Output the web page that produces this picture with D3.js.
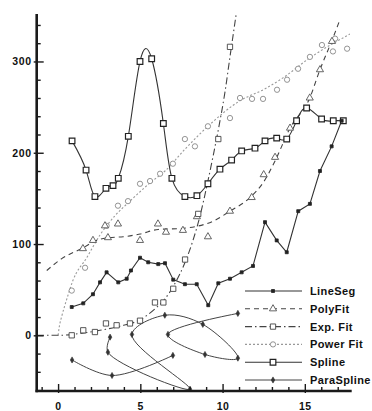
<!DOCTYPE html>
<html>
<head>
<meta charset="utf-8">
<script src="https://cdn.jsdelivr.net/npm/d3@7"></script>
<style>
  html, body { margin: 0; padding: 0; background: #fff; }
  svg { display: block; }
  text { font-family: "Liberation Sans", Arial, Helvetica, sans-serif; font-weight: bold; fill: #111; }
</style>
</head>
<body>
<svg id="chart" width="372" height="411"></svg>
<script>
// ---- data ----
const lineSegX = [0.83, 1.53, 2.12, 2.55, 2.95, 3.66, 4.17, 4.43, 4.98, 5.48, 6.09, 6.5, 7.0, 7.71, 8.43, 9.13, 9.74, 10.45, 11.16, 11.85, 12.58, 13.29, 13.9, 14.6, 15.31, 15.92, 16.63, 17.24];
const lineSegY = [31, 35, 45, 58, 69, 58, 62, 71, 85, 80, 78, 79, 61, 56, 56, 33, 57, 62, 69, 76, 124, 104, 91, 136, 144, 180, 207, 235];

const polyFitX = [1.51, 2.12, 2.85, 3.03, 3.64, 4.98, 6.07, 6.56, 7.59, 8.44, 9.11, 10.45, 11.77, 12.5, 13.19, 14.1, 15.3, 15.92, 16.65];
const polyFitY = [95, 104, 120, 107, 122, 104, 122, 113, 115, 130, 108, 136, 151, 176, 195, 227, 260, 291, 322];
const polyCurveX = [-0.69, 0.22, 1.43, 2.35, 3.05, 3.96, 4.98, 6.09, 7.41, 8.32, 9.42, 10.45, 11.67, 12.46, 13.19, 14.1, 15.3, 15.92, 16.65, 17.14];
const polyCurveY = [71, 84, 95, 104, 107, 108, 111, 116, 117, 119, 125, 136, 151, 167, 191, 227, 260, 291, 323, 346];

const expFitX = [0.83, 1.53, 2.24, 2.91, 3.56, 4.37, 4.98, 5.89, 6.4, 7.0, 7.72, 8.52, 9.74, 10.45];
const expFitY = [0, 5.5, 3.6, 13, 11, 13, 16, 36, 36, 51, 83, 133, 215, 316];
const expCurveX = [-1.28, 0, 1.34, 2.55, 3.76, 4.98, 5.89, 6.5, 7.11, 7.72, 8.2, 8.63, 9.05, 9.42, 9.78, 10.15, 10.45, 10.82];
const expCurveY = [0, 0, 2, 5.5, 10, 17, 29, 40, 57, 80, 104, 131, 164, 196, 229, 267, 305, 351];

const powerFitX = [0.83, 1.64, 2.95, 3.64, 4.25, 4.98, 5.59, 6.2, 6.98, 7.71, 8.32, 9.11, 10.45, 11.06, 11.79, 12.46, 13.31, 13.92, 14.59, 15.31, 16.04, 16.71, 16.84, 17.57];
const powerFitY = [49, 74, 120, 142, 147, 166, 169, 177, 188, 215, 207, 229, 238, 260, 259, 259, 269, 280, 292, 305, 318, 311, 325, 314];
const powerCurveX = [0, 0.08, 0.24, 0.5, 0.9, 1.74, 2.55, 3.46, 4.37, 5.59, 6.5, 7.72, 9.11, 11.06, 12.58, 13.67, 15.31, 17.74];
const powerCurveY = [0, 10, 22, 38, 60, 85, 110, 131, 147, 167, 180, 204, 229, 257, 270, 282, 304, 330];

const splineX = [0.85, 1.70, 2.24, 2.91, 3.34, 3.66, 4.27, 4.98, 5.69, 6.40, 6.92, 7.71, 8.44, 9.11, 9.84, 10.55, 11.16, 11.97, 12.58, 13.29, 13.90, 14.50, 15.11, 16.02, 16.73, 17.34];
const splineY = [213, 181, 152, 161, 164, 172, 218, 300, 303, 232, 172, 152, 153, 166, 182, 192, 202, 205, 213, 216, 215, 235, 249, 237, 235, 235];

// parametric path; null splits it into two pieces
const paraX = [3.16, 3.03, 8.02, 4.49, 6.49, 8.8, 10.93, 8.93, 6.68, 10.93, null, 0.85, 3.28, 6.98];
const paraY = [-2, -18.5, -59, 1, 22, 12, -25, -21, 1, 24, null, -27, -44, -22];

const xMajorTicks = [0, 5, 10, 15];
const yMajorTicks = [0, 100, 200, 300];
const legendNames = ["LineSeg", "PolyFit", "Exp. Fit", "Power Fit", "Spline", "ParaSpline"];

// ---- layout ----
const svg = d3.select("#chart");
const x = d3.scaleLinear().domain([-1.3, 17.85]).range([36.7, 351.7]);
const y = d3.scaleLinear().domain([-61, 352]).range([391, 14]);

const zip = (xs, ys) => xs.map((v, i) => ({ x: v, y: ys[i] }));

svg.append("defs").append("clipPath").attr("id", "plot")
  .append("rect").attr("x", x.range()[0]).attr("y", y.range()[1])
  .attr("width", x.range()[1] - x.range()[0]).attr("height", y.range()[0] - y.range()[1]);

const plot = svg.append("g").attr("clip-path", "url(#plot)");

const symbols = {
  lineSeg:   { type: d3.symbolSquare,   size: 9,  fill: "#222", stroke: "#222", sw: 0.8 },
  polyFit:   { type: d3.symbolTriangle, size: 22, fill: "#fff", stroke: "#555", sw: 0.9 },
  expFit:    { type: d3.symbolSquare,   size: 28, fill: "#fff", stroke: "#444", sw: 0.9 },
  powerFit:  { type: d3.symbolCircle,   size: 22, fill: "#fff", stroke: "#888", sw: 0.9 },
  spline:    { type: d3.symbolSquare,   size: 32, fill: "#fff", stroke: "#222", sw: 1.2 },
  paraSpline:{ type: d3.symbolDiamond,  size: 11, fill: "#333", stroke: "#333", sw: 0.6 }
};

const lineStyles = {
  lineSeg:    { stroke: "#333", dash: null,        width: 1.1 },
  polyFit:    { stroke: "#444", dash: "5,4",       width: 1.1 },
  expFit:     { stroke: "#444", dash: "7,3,1.5,3", width: 1.1 },
  powerFit:   { stroke: "#999", dash: "2,2",       width: 1.1 },
  spline:     { stroke: "#333", dash: null,        width: 1.1 },
  paraSpline: { stroke: "#444", dash: null,        width: 1.0 }
};

function drawLine(pts, key, curve) {
  const st = lineStyles[key];
  const gen = d3.line()
    .defined(d => d.x !== null && d.y !== null)
    .x(d => x(d.x)).y(d => y(d.y)).curve(curve);
  plot.append("path").datum(pts)
    .attr("d", gen).attr("fill", "none")
    .attr("stroke", st.stroke).attr("stroke-width", st.width)
    .attr("stroke-dasharray", st.dash);
}

function drawMarkers(pts, key) {
  const s = symbols[key];
  plot.append("g").selectAll("path")
    .data(pts.filter(d => d.x !== null))
    .join("path")
    .attr("transform", d => `translate(${x(d.x)},${y(d.y)})`)
    .attr("d", d3.symbol().type(s.type).size(s.size))
    .attr("fill", s.fill).attr("stroke", s.stroke).attr("stroke-width", s.sw);
}

// fit curves
drawLine(zip(powerCurveX, powerCurveY), "powerFit", d3.curveMonotoneX);
drawLine(zip(polyCurveX, polyCurveY), "polyFit", d3.curveMonotoneX);
drawLine(zip(expCurveX, expCurveY), "expFit", d3.curveMonotoneX);
// connected series
drawLine(zip(splineX, splineY), "spline", d3.curveNatural);
drawLine(zip(lineSegX, lineSegY), "lineSeg", d3.curveLinear);
drawLine(zip(paraX, paraY), "paraSpline", d3.curveCatmullRom.alpha(0.5));

drawMarkers(zip(powerFitX, powerFitY), "powerFit");
drawMarkers(zip(polyFitX, polyFitY), "polyFit");
drawMarkers(zip(expFitX, expFitY), "expFit");
drawMarkers(zip(splineX, splineY), "spline");
drawMarkers(zip(lineSegX, lineSegY), "lineSeg");
drawMarkers(zip(paraX, paraY), "paraSpline");

// ---- axes ----
const axisColor = "#1a1a1a";
const yMinor = d3.range(-60, 352, 20).filter(v => !yMajorTicks.includes(v));
const xMinor = d3.range(-1, 18, 1).filter(v => !xMajorTicks.includes(v));

function styleAxis(g) {
  g.selectAll("line").attr("stroke", axisColor).attr("stroke-width", 1.4);
  g.select(".domain").remove();
  g.selectAll("text").attr("font-size", "10.5px").attr("letter-spacing", "0.6px")
    .attr("font-family", "Liberation Sans, Arial, sans-serif").attr("font-weight", "bold").attr("fill", "#111");
}

const yAx = svg.append("g").attr("transform", `translate(${x.range()[0]},0)`);
yAx.append("g").call(d3.axisLeft(y).tickValues(yMajorTicks).tickSize(-7).tickPadding(5).tickFormat(d3.format("d"))).call(styleAxis);
yAx.append("g").call(d3.axisLeft(y).tickValues(yMajorTicks).tickSize(3).tickFormat("")).call(styleAxis);
yAx.append("g").call(d3.axisLeft(y).tickValues(yMinor).tickSize(-4).tickFormat("")).call(styleAxis);

const xAx = svg.append("g").attr("transform", `translate(0,${y.range()[0]})`);
xAx.append("g").call(d3.axisBottom(x).tickValues(xMajorTicks).tickSize(-7).tickPadding(12).tickFormat(d3.format("d"))).call(styleAxis);
xAx.append("g").call(d3.axisBottom(x).tickValues(xMajorTicks).tickSize(2).tickFormat("")).call(styleAxis);
xAx.append("g").call(d3.axisBottom(x).tickValues(xMinor).tickSize(-4).tickFormat("")).call(styleAxis);

// axis lines
svg.append("line").attr("x1", x.range()[0]).attr("x2", x.range()[0])
  .attr("y1", y.range()[1]).attr("y2", y.range()[0] + 1.2)
  .attr("stroke", axisColor).attr("stroke-width", 2.6);
svg.append("line").attr("x1", x.range()[0] - 1.2).attr("x2", x.range()[1])
  .attr("y1", y.range()[0]).attr("y2", y.range()[0])
  .attr("stroke", axisColor).attr("stroke-width", 2.6);

// ---- legend ----
const legendKeys = ["lineSeg", "polyFit", "expFit", "powerFit", "spline", "paraSpline"];
const legend = svg.append("g");
legendKeys.forEach((k, i) => {
  const ly = 291 + i * 17.8;
  const st = lineStyles[k];
  legend.append("line").attr("x1", 245).attr("x2", 302).attr("y1", ly).attr("y2", ly)
    .attr("stroke", st.stroke).attr("stroke-width", st.width).attr("stroke-dasharray", st.dash);
  const s = symbols[k];
  legend.append("path").attr("transform", `translate(273,${ly})`)
    .attr("d", d3.symbol().type(s.type).size(s.size))
    .attr("fill", s.fill).attr("stroke", s.stroke).attr("stroke-width", s.sw);
  legend.append("text").attr("x", 310).attr("y", ly).attr("dy", "0.36em")
    .attr("font-size", "11px").attr("letter-spacing", "0.4px")
    .text(legendNames[i]);
});
</script>
</body>
</html>
